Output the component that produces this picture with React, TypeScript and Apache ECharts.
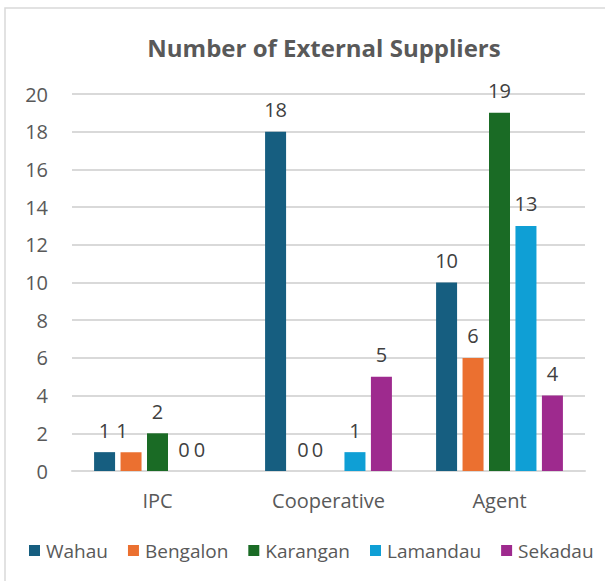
import React, { useEffect, useRef } from "react";
import * as echarts from "echarts";

const categories = ["IPC", "Cooperative", "Agent"];
const seriesNames = ["Wahau", "Bengalon", "Karangan", "Lamandau", "Sekadau"];
const wahau = [1, 18, 10];
const bengalon = [1, 0, 6];
const karangan = [2, 0, 19];
const lamandau = [0, 1, 13];
const sekadau = [0, 5, 4];
const colors = ["#165E80", "#EB7030", "#1A6B25", "#0F9FD5", "#9E2A8E"];
const yTicks = { min: 0, max: 20, interval: 2 };

// label nudges (series index -> category index -> x offset), mimicking the reference's collision layout
const labelNudge: Record<number, Record<number, number>> = {
  1: { 0: -9, 1: 1 },
  2: { 1: -11 },
  4: { 0: -11 },
};

const FONT = "'Open Sans', sans-serif";

export default function App() {
  const ref = useRef<HTMLDivElement>(null);
  useEffect(() => {
    if (!ref.current) return;
    const chart = echarts.init(ref.current, undefined, { renderer: "svg" });
    const values = [wahau, bengalon, karangan, lamandau, sekadau];
    chart.setOption({
      animation: false,
      backgroundColor: "#ffffff",
      title: {
        text: "Number of External Suppliers",
        left: 319,
        top: 30,
        textAlign: "center",
        textStyle: { fontFamily: FONT, fontSize: 24, fontWeight: "bold", color: "#595959" },
      },
      graphic: [
        {
          type: "rect",
          shape: { x: 5, y: 8, width: 700, height: 700 },
          style: { fill: "none", stroke: "#d9d9d9", lineWidth: 1.5 },
          silent: true,
        },
      ],
      legend: {
        data: seriesNames,
        left: 29,
        top: 541,
        width: 576,
        padding: 0,
        itemWidth: 11,
        itemHeight: 11,
        itemGap: 20,
        icon: "rect",
        textStyle: { fontFamily: FONT, fontSize: 19, color: "#595959", padding: [0, 0, 0, 1] },
      },
      grid: { left: 72, right: 20, top: 94, bottom: 110, containLabel: false },
      xAxis: {
        type: "category",
        data: categories,
        axisTick: { show: false },
        axisLine: { lineStyle: { color: "#d9d9d9", width: 2 } },
        axisLabel: { fontFamily: FONT, fontSize: 20, color: "#595959", margin: 19 },
      },
      yAxis: {
        type: "value",
        min: yTicks.min,
        max: yTicks.max,
        interval: yTicks.interval,
        axisLine: { show: false },
        axisTick: { show: false },
        splitLine: { lineStyle: { color: "#d9d9d9", width: 2 } },
        axisLabel: { fontFamily: FONT, fontSize: 20, color: "#595959", margin: 24 },
      },
      series: seriesNames.map((name, i) => ({
        name,
        type: "bar",
        data: values[i].map((v, j) => {
          const dx = labelNudge[i] && labelNudge[i][j];
          return dx ? { value: v, label: { offset: [dx, 0] } } : v;
        }),
        barWidth: 21,
        barGap: "26%",
        itemStyle: { color: colors[i] },
        label: {
          show: true,
          position: "top",
          distance: 12,
          fontFamily: FONT,
          fontSize: 20,
          color: "#404040",
        },
      })),
    });
    return () => chart.dispose();
  }, []);
  return (
    <div
      ref={ref}
      style={{ position: "absolute", left: 0, top: 0, width: 605, height: 581 }}
    />
  );
}
